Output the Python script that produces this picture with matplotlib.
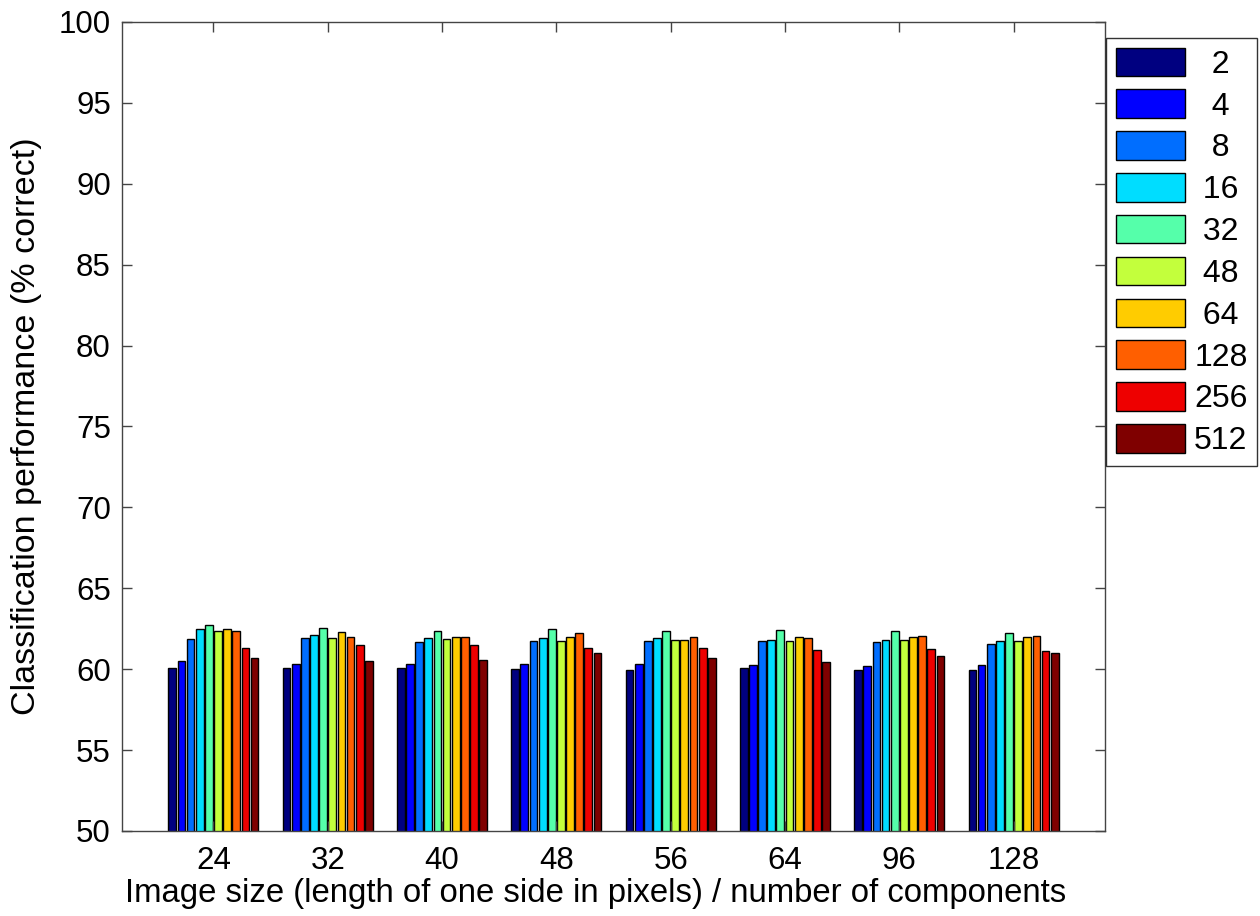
import matplotlib.pyplot as plt
import numpy as np

plt.rcParams['font.family'] = ['Liberation Sans', 'DejaVu Sans']

# image sizes on the x axis, one group of bars each
sizes = ['24', '32', '40', '48', '56', '64', '96', '128']
# number of components, one bar per group
components = ['2', '4', '8', '16', '32', '48', '64', '128', '256', '512']

# classification performance (% correct), rows = image size, cols = components
perf_24 = [60.06, 60.49, 61.85, 62.47, 62.75, 62.34, 62.47, 62.34, 61.31, 60.67]
perf_32 = [60.06, 60.34, 61.91, 62.11, 62.55, 61.93, 62.30, 61.99, 61.51, 60.49]
perf_40 = [60.09, 60.30, 61.70, 61.93, 62.34, 61.85, 61.97, 61.99, 61.50, 60.57]
perf_48 = [59.99, 60.30, 61.74, 61.91, 62.47, 61.74, 61.97, 62.22, 61.29, 61.02]
perf_56 = [59.97, 60.30, 61.74, 61.91, 62.36, 61.80, 61.80, 61.99, 61.33, 60.67]
perf_64 = [60.06, 60.28, 61.74, 61.82, 62.42, 61.76, 61.97, 61.91, 61.19, 60.46]
perf_96 = [59.97, 60.22, 61.70, 61.82, 62.34, 61.79, 62.01, 62.03, 61.27, 60.83]
perf_128 = [59.97, 60.24, 61.56, 61.76, 62.24, 61.76, 61.99, 62.05, 61.12, 61.00]

colors = ['#000080', '#0000FF', '#006EFF', '#00DDFF', '#55FFAA',
          '#C3FF3C', '#FFCC00', '#FF5F00', '#EE0000', '#7F0000']

perf = np.array([perf_24, perf_32, perf_40, perf_48,
                 perf_56, perf_64, perf_96, perf_128])


def centred(label, width=3):
    # pad with figure / punctuation spaces so labels sit centred in the legend
    extra = width - len(label)
    return '\u2007' * (extra // 2) + '\u2008' * (extra % 2) + label


fig = plt.figure(figsize=(12.6, 9.16), dpi=100)
ax = fig.add_axes([0.0968, 0.0928, 0.7802, 0.8832])

x = np.arange(1, len(sizes) + 1)
slot = 0.08
n = len(components)
for j in range(n):
    offset = (j - (n - 1) / 2) * slot
    ax.bar(x + offset, perf[:, j], width=0.068, bottom=0,
           color=colors[j], edgecolor='black', linewidth=1.0,
           label=centred(components[j]))

ax.set_ylim(50, 100)
ax.set_xlim(0.2, 8.8)
ax.set_yticks(np.arange(50, 101, 5))
ax.set_xticks(x)
ax.set_xticklabels(sizes)

for s in ax.spines.values():
    s.set_color('#444444')
    s.set_linewidth(1.0)
ax.tick_params(direction='in', length=7, width=1, color='#444444',
               labelsize=22.5, top=True, right=True)
ax.tick_params(axis='x', pad=11)
ax.tick_params(axis='y', pad=8)

ax.set_xlabel('Image size (length of one side in pixels) / number of components',
              fontsize=23.7)
ax.xaxis.set_label_coords(0.482, -0.058)
ax.set_ylabel('Classification performance (% correct)', fontsize=24.5)
ax.yaxis.set_label_coords(-0.081, 0.5)

leg = ax.legend(loc='upper left', bbox_to_anchor=(0.8778, 0.9585),
                bbox_transform=fig.transFigure, fontsize=23,
                frameon=True, fancybox=False, borderaxespad=0,
                handlelength=2.16, handleheight=1.0, handletextpad=0.3,
                labelspacing=0.3, borderpad=0.3)
leg.get_frame().set_edgecolor('black')
leg.get_frame().set_linewidth(1.0)

fig.savefig('out.png', dpi=100, facecolor='white')
